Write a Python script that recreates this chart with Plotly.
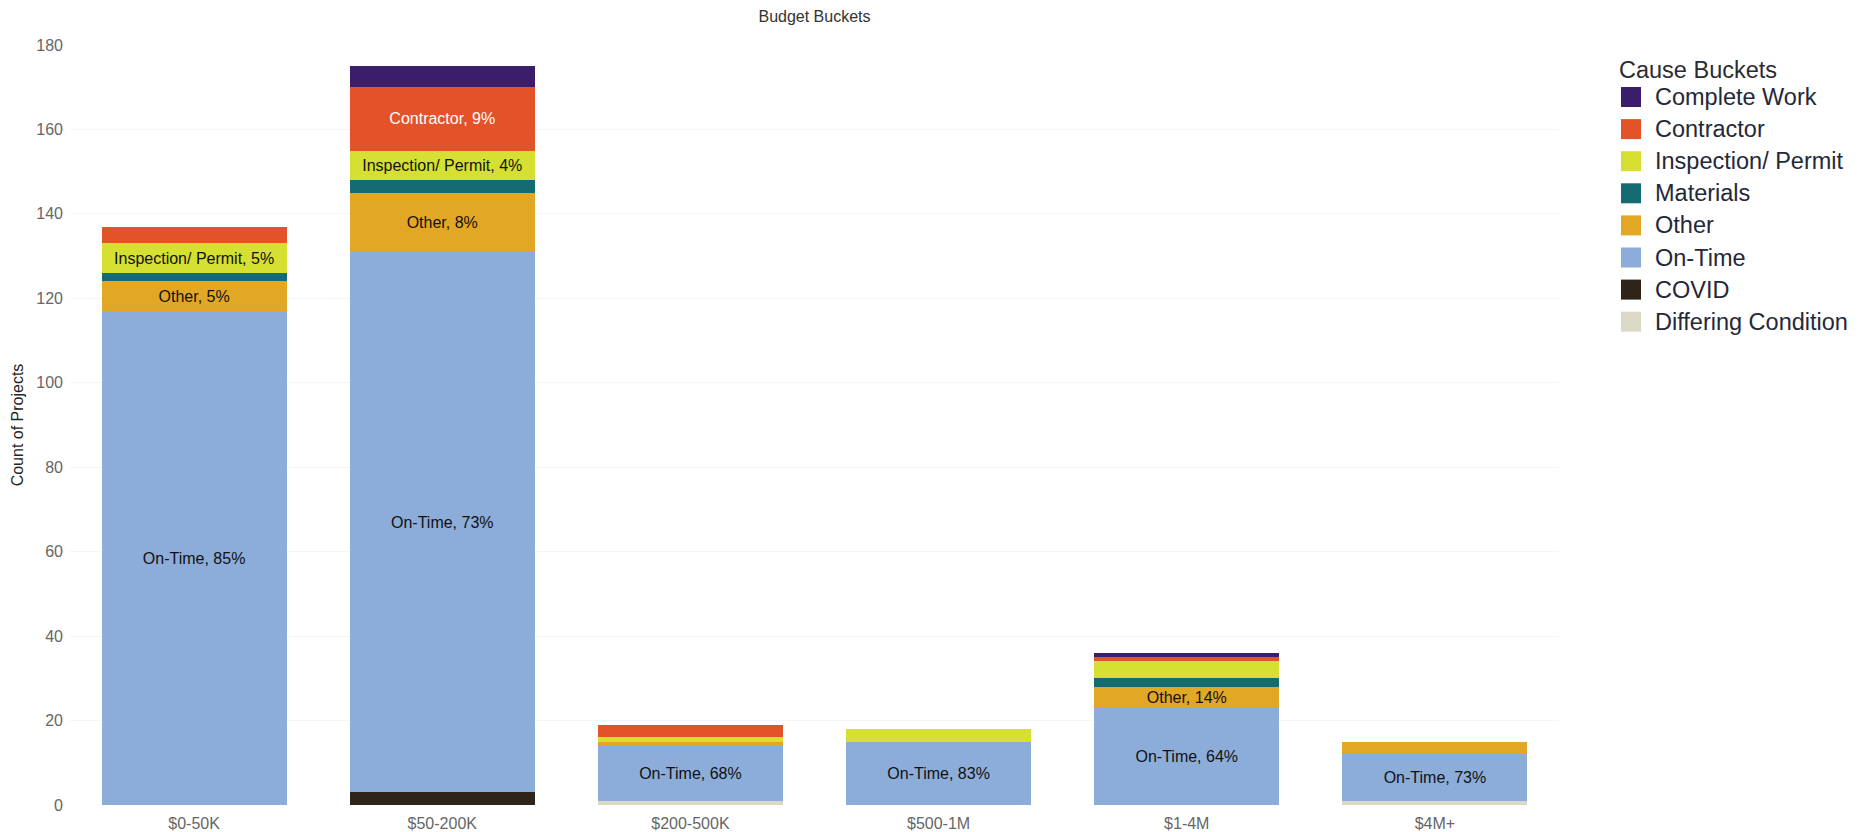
import plotly.graph_objects as go

# Budget buckets along the x axis
budget_buckets = ["$0-50K", "$50-200K", "$200-500K", "$500-1M", "$1-4M", "$4M+"]

# Count of projects per cause bucket (listed bottom of stack -> top)
differing_condition = [0, 0, 1, 0, 0, 1]
covid = [0, 3, 0, 0, 0, 0]
on_time = [117, 128, 13, 15, 23, 11]
other = [7, 14, 1, 0, 5, 3]
materials = [2, 3, 0, 0, 2, 0]
inspection_permit = [7, 7, 1, 3, 4, 0]
contractor = [4, 15, 3, 0, 1, 0]
complete_work = [0, 5, 0, 0, 1, 0]

# Which segments carry a data label
label_on_time = [True, True, True, True, True, True]
label_other = [True, True, False, False, True, False]
label_inspection = [True, True, False, False, False, False]
label_contractor = [False, True, False, False, False, False]
label_none = [False] * 6

series = [
    ("Differing Condition", differing_condition, "#DAD8C6", label_none, "#000000"),
    ("COVID", covid, "#2F2419", label_none, "#FFFFFF"),
    ("On-Time", on_time, "#8CADD9", label_on_time, "#111111"),
    ("Other", other, "#E3A726", label_other, "#111111"),
    ("Materials", materials, "#146B71", label_none, "#FFFFFF"),
    ("Inspection/ Permit", inspection_permit, "#D5E033", label_inspection, "#111111"),
    ("Contractor", contractor, "#E4522A", label_contractor, "#FFFFFF"),
    ("Complete Work", complete_work, "#3A1D6B", label_none, "#FFFFFF"),
]

FONT = "Liberation Sans, Arial, sans-serif"

totals = [sum(vals) for vals in zip(*[s[1] for s in series])]

fig = go.Figure()
for name, values, color, show, text_color in series:
    texts = [
        f"{name}, {round(v / t * 100)}%" if flag and v else ""
        for v, t, flag in zip(values, totals, show)
    ]
    fig.add_trace(go.Bar(
        name=name,
        x=budget_buckets,
        y=values,
        marker=dict(color=color, line=dict(width=0)),
        text=texts,
        textposition="inside",
        insidetextanchor="middle",
        textangle=0,
        constraintext="none",
        insidetextfont=dict(family=FONT, size=16, color=text_color),
        showlegend=False,
        hovertemplate="%{x}<br>" + name + ": %{y}<extra></extra>",
    ))

# Legend panel on the right, built from the series list (top of stack first)
shapes = []
annotations = [dict(
    text="Cause Buckets", xref="paper", yref="paper", x=1, y=1,
    xshift=58, yshift=-25, xanchor="left", yanchor="middle",
    showarrow=False, font=dict(family=FONT, size=23.5, color="#2B2B33"),
)]
for i, (name, _, color, _, _) in enumerate(reversed(series)):
    cy = -(52 + 32.1 * i)
    shapes.append(dict(
        type="rect", xref="paper", yref="paper",
        xsizemode="pixel", ysizemode="pixel", xanchor=1, yanchor=1,
        x0=62, x1=82, y0=cy - 10, y1=cy + 10,
        fillcolor=color, line=dict(width=0),
    ))
    annotations.append(dict(
        text=name, xref="paper", yref="paper", x=1, y=1,
        xshift=94, yshift=cy, xanchor="left", yanchor="middle",
        showarrow=False, font=dict(family=FONT, size=23.5, color="#252838"),
    ))

fig.update_layout(
    width=1874,
    height=832,
    autosize=False,
    margin=dict(l=70, r=315, t=45, b=27),
    paper_bgcolor="white",
    plot_bgcolor="white",
    barmode="stack",
    bargap=0.254,
    font=dict(family=FONT),
    title=dict(
        text="Budget Buckets", x=0.5, xref="paper", xanchor="center",
        y=1 - 16 / 832, yref="container", yanchor="middle",
        font=dict(family=FONT, size=16, color="#333333"),
    ),
    xaxis=dict(
        type="category", automargin=False,
        showgrid=False, showline=False, zeroline=False, ticks="",
        tickfont=dict(family=FONT, size=16, color="#666666"),
        ticklabelstandoff=7,
    ),
    yaxis=dict(
        range=[0, 180], dtick=20, automargin=False,
        showgrid=True, gridcolor="#F5F5F5", gridwidth=1,
        zeroline=False, showline=False, ticks="",
        tickfont=dict(family=FONT, size=16, color="#666666"),
        ticklabelstandoff=6,
        title=dict(text="Count of Projects", standoff=8,
                   font=dict(family=FONT, size=16, color="#252423")),
    ),
    shapes=shapes,
    annotations=annotations,
    showlegend=False,
)

fig.write_html("out.html")
